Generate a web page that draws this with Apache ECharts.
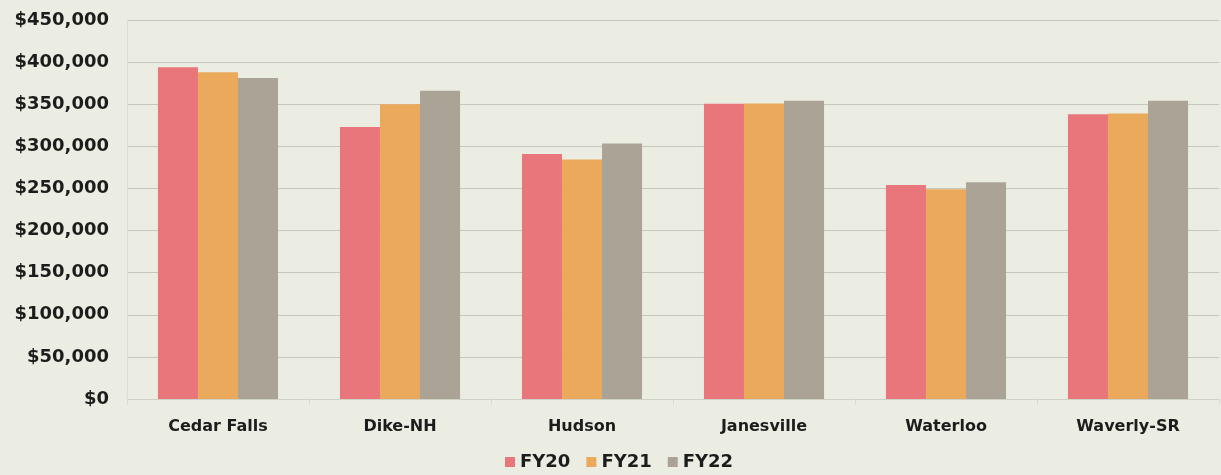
<!DOCTYPE html>
<html>
<head>
<meta charset="utf-8">
<script src="https://cdn.jsdelivr.net/npm/echarts@6/dist/echarts.min.js"></script>
<style>
  html, body { margin: 0; padding: 0; background: #ecede2; }
  #chart { width: 1221px; height: 475px; }
</style>
</head>
<body>
<div id="chart"></div>
<script>
// Districts and yearly amounts (USD)
const categories = ['Cedar Falls', 'Dike-NH', 'Hudson', 'Janesville', 'Waterloo', 'Waverly-SR'];
const fy20 = [394000, 323000, 291000, 350500, 254000, 338000];
const fy21 = [388000, 350000, 284500, 351000, 249000, 339000];
const fy22 = [381000, 366000, 303500, 354000, 257500, 354000];
const seriesNames = ['FY20', 'FY21', 'FY22'];
const seriesColors = ['#e8767b', '#eba95c', '#aca397'];

const fontFamily = '"DejaVu Sans", "Liberation Sans", sans-serif';

function money(v) {
  return '$' + v.toLocaleString('en-US');
}

const chart = echarts.init(document.getElementById('chart'), null, { renderer: 'canvas' });

chart.setOption({
  backgroundColor: '#ecede2',
  animation: false,
  grid: { left: 127, right: 2, top: 20, bottom: 76, containLabel: false },
  legend: {
    data: seriesNames,
    left: 500,
    top: 448,
    itemWidth: 10,
    itemHeight: 10,
    itemGap: 16,
    icon: 'rect',
    textStyle: { fontFamily, fontWeight: 'bold', fontSize: 18, color: '#1c1c1c' }
  },
  xAxis: {
    type: 'category',
    data: categories,
    axisLine: { show: true, lineStyle: { color: '#cfd0c6', width: 1 } },
    axisTick: { show: true, length: 6, lineStyle: { color: '#dadbd1' } },
    axisLabel: { fontFamily, fontWeight: 'bold', fontSize: 16, color: '#1c1c1c', margin: 20 }
  },
  yAxis: {
    type: 'value',
    min: 0,
    max: 450000,
    interval: 50000,
    axisLine: { show: true, lineStyle: { color: '#dcddd3' } },
    axisTick: { show: false },
    splitLine: { lineStyle: { color: '#c6c7bd', width: 1 } },
    axisLabel: { fontFamily, fontWeight: 'bold', fontSize: 18, color: '#1c1c1c', margin: 18, formatter: money }
  },
  series: [fy20, fy21, fy22].map((d, i) => ({
    name: seriesNames[i],
    type: 'bar',
    data: d,
    barGap: '0%',
    barCategoryGap: '34%',
    itemStyle: { color: seriesColors[i] }
  }))
});
</script>
</body>
</html>
